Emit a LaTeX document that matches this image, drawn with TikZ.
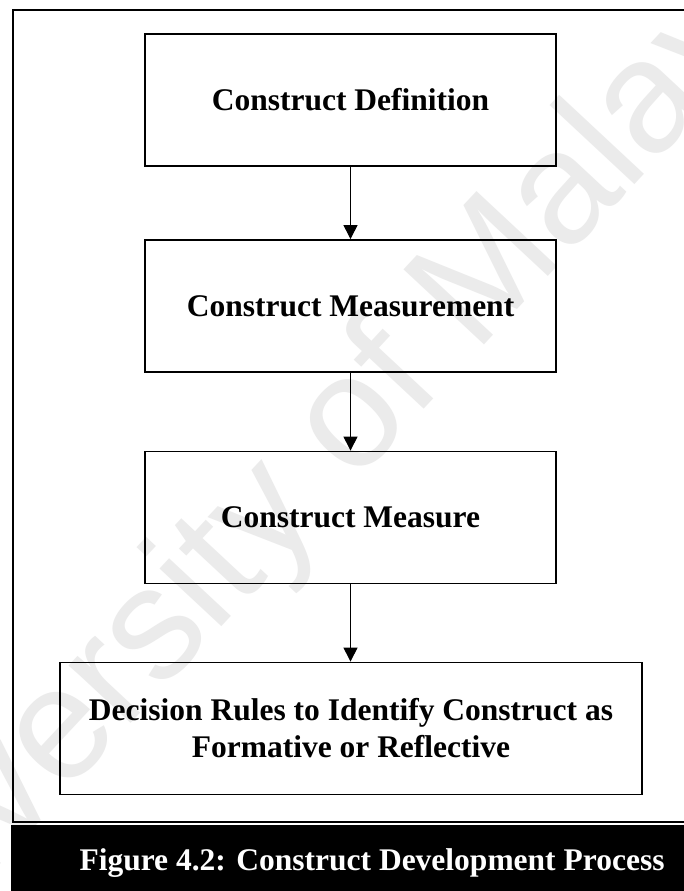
\documentclass[tikz,border=0pt]{standalone}
\usepackage{fontspec}
\setmainfont{Liberation Serif}
\newfontfamily\wmfont{Liberation Sans}
\usetikzlibrary{arrows.meta}

\tikzset{
  stagebox/.style={draw=black, line width=1.8pt, minimum width=411pt, minimum height=132pt,
    font=\fontsize{31.5}{37}\selectfont\bfseries, align=center, inner sep=0pt},
  flowarrow/.style={draw=black, line width=1pt, -{Triangle[length=14pt,width=14pt]}},
  framebox/.style={draw=black, line width=2.2pt},
}

\begin{document}
\begin{tikzpicture}[x=1pt,y=-1pt]
  \useasboundingbox (0,0) rectangle (684,891);
  \fill[white] (0,0) rectangle (684,891);

  % background watermark
  \begin{scope}
    \clip (0,0) rectangle (684,891);
    \node[rotate=47, text=black!8, inner sep=0pt,
      font=\fontsize{160}{160}\selectfont\wmfont] (wm) at (306,476) {University of Malaya};
  \end{scope}

  % outer frame (its right side lies beyond the page)
  \draw[framebox] (700,10) -- (13,10) -- (13,822) -- (700,822);

  % process stages
  \node[stagebox] (def) at (350.5,100) {Construct Definition};
  \node[stagebox] (meas) at (350.5,306) {Construct Measurement};
  \node[stagebox] (msr) at (350.5,517.5) {Construct Measure};
  \node[stagebox, minimum width=582pt, minimum height=132pt] (rules) at (351,728.5)
    {Decision Rules to Identify Construct as\\Formative or Reflective};

  % connectors
  \draw[flowarrow] (def) -- (meas);
  \draw[flowarrow] (meas) -- (msr);
  \draw[flowarrow] (msr.south) -- (rules.north -| msr.south);

  % caption bar
  \fill[black] (11,825) rectangle (700,895);
  \node[text=white, font=\fontsize{31.5}{37}\selectfont\bfseries, anchor=base] (cap)
    at (372,870) {Figure 4.2: Construct Development Process};
\end{tikzpicture}
\end{document}
